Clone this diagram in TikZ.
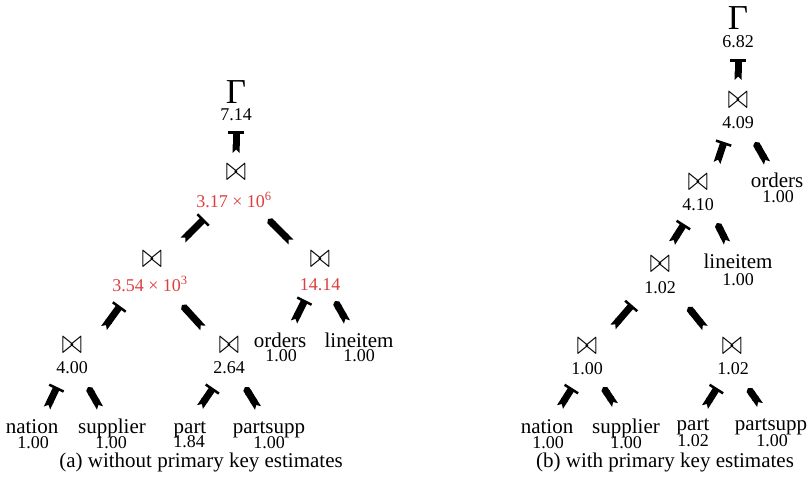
\documentclass[tikz,border=0pt]{standalone}
\usepackage{graphicx}
\usepackage{fontspec}
\setmainfont{Liberation Serif}
\usetikzlibrary{arrows.meta}
\definecolor{estred}{RGB}{222,62,62}
\newcommand\jn{\scalebox{1}[1.4]{$\bowtie$}}
\begin{document}
\begin{tikzpicture}[x=1pt,y=-1pt,
 nm/.style={anchor=base, inner sep=0pt, font=\fontsize{21}{21}\selectfont},
 num/.style={anchor=base, inner sep=0pt, font=\fontsize{18}{18}\selectfont},
 est/.style={num, text=estred},
 gam/.style={anchor=base, inner sep=0pt, font=\fontsize{35}{35}\selectfont},
 joinop/.style={inner sep=0pt, font=\fontsize{30}{30}\selectfont},
 capt/.style={anchor=base, inner sep=0pt, font=\fontsize{21}{21}\selectfont},
 upl/.style={line width=7pt, {Triangle Cap[reversed,length=3.5pt]}-{Bar[width=16pt,line width=2.5pt]}},
 upr/.style={line width=7pt, {Triangle Cap[reversed,length=3.5pt]}-{Triangle Cap[length=2.5pt]}}]
\useasboundingbox (0,0) rectangle (808,479);

% ---------- panel (a) ----------
\node[gam] (aG) at (236,103) {Γ};
\node[num] (aGv) at (236,120) {7.14};
\node[joinop] (aJ1) at (236,172) {\jn};
\node[est] (aJ1v) at (234,207) {3.17 × 10\textsuperscript{6}};
\node[joinop] (aJ2) at (152,259) {\jn};
\node[est] (aJ2v) at (150,291) {3.54 × 10\textsuperscript{3}};
\node[joinop] (aJ3) at (320,259) {\jn};
\node[est] (aJ3v) at (320,290) {14.14};
\node[nm] (aOrd) at (280,347) {orders};
\node[num] (aOrdv) at (281,361) {1.00};
\node[nm] (aLin) at (359,347) {lineitem};
\node[num] (aLinv) at (359,361) {1.00};
\node[joinop] (aJ4) at (72,345) {\jn};
\node[num] (aJ4v) at (72,373) {4.00};
\node[joinop] (aJ5) at (229,345) {\jn};
\node[num] (aJ5v) at (229,373) {2.64};
\node[nm] (aNat) at (32,433) {nation};
\node[num] (aNatv) at (33,448) {1.00};
\node[nm] (aSup) at (112,433) {supplier};
\node[num] (aSupv) at (111,448) {1.00};
\node[nm] (aPart) at (190,433) {part};
\node[num] (aPartv) at (189,447) {1.84};
\node[nm] (aPs) at (269,433) {partsupp};
\node[num] (aPsv) at (269,448) {1.00};
\node[capt] (aCap) at (201,467) {(a) without primary key estimates};

\coordinate (a1s) at (236,153); \coordinate (a1e) at (236,131);
\coordinate (a2s) at (183,240); \coordinate (a2e) at (204,219);
\coordinate (a3s) at (291,242); \coordinate (a3e) at (268,219);
\coordinate (a4s) at (104,328); \coordinate (a4e) at (120,306);
\coordinate (a5s) at (203,328); \coordinate (a5e) at (182,305);
\coordinate (a6s) at (294,322); \coordinate (a6e) at (305,300);
\coordinate (a7s) at (347,322); \coordinate (a7e) at (335,301);
\coordinate (a8s) at (47,408);  \coordinate (a8e) at (57,387);
\coordinate (a9s) at (100,408); \coordinate (a9e) at (88,387);
\coordinate (a10s) at (200,407); \coordinate (a10e) at (213,388);
\coordinate (a11s) at (258,408); \coordinate (a11e) at (245,387);
\draw[upl] (a1s) -- (a1e);
\draw[upl] (a2s) -- (a2e);
\draw[upr] (a3s) -- (a3e);
\draw[upl] (a4s) -- (a4e);
\draw[upr] (a5s) -- (a5e);
\draw[upl] (a6s) -- (a6e);
\draw[upr] (a7s) -- (a7e);
\draw[upl] (a8s) -- (a8e);
\draw[upr] (a9s) -- (a9e);
\draw[upl] (a10s) -- (a10e);
\draw[upr] (a11s) -- (a11e);

% ---------- panel (b) ----------
\node[gam] (bG) at (738,29) {Γ};
\node[num] (bGv) at (738,47) {6.82};
\node[joinop] (bJ1) at (738,100) {\jn};
\node[num] (bJ1v) at (738,128) {4.09};
\node[joinop] (bJ2) at (698,182) {\jn};
\node[num] (bJ2v) at (698,210) {4.10};
\node[nm] (bOrd) at (777,187) {orders};
\node[num] (bOrdv) at (778,202) {1.00};
\node[joinop] (bJ3) at (660,264) {\jn};
\node[num] (bJ3v) at (660,293) {1.02};
\node[nm] (bLin) at (738,268) {lineitem};
\node[num] (bLinv) at (738,285) {1.00};
\node[joinop] (bJ4) at (587,346) {\jn};
\node[num] (bJ4v) at (587,374) {1.00};
\node[joinop] (bJ5) at (732,346) {\jn};
\node[num] (bJ5v) at (733,374) {1.02};
\node[nm] (bNat) at (547,433) {nation};
\node[num] (bNatv) at (548,448) {1.00};
\node[nm] (bSup) at (626,433) {supplier};
\node[num] (bSupv) at (626,448) {1.00};
\node[nm] (bPart) at (693,430) {part};
\node[num] (bPartv) at (693,446) {1.02};
\node[nm] (bPs) at (771,430) {partsupp};
\node[num] (bPsv) at (772,446) {1.00};
\node[capt] (bCap) at (665,467) {(b) with primary key estimates};

\coordinate (b1s) at (738,80);  \coordinate (b1e) at (738,59);
\coordinate (b2s) at (717,163); \coordinate (b2e) at (724,142);
\coordinate (b3s) at (767,163); \coordinate (b3e) at (755,142);
\coordinate (b4s) at (672,243); \coordinate (b4e) at (684,224);
\coordinate (b5s) at (727,243); \coordinate (b5e) at (717,223);
\coordinate (b6s) at (613,327); \coordinate (b6e) at (632,305);
\coordinate (b7s) at (705,328); \coordinate (b7e) at (688,307);
\coordinate (b8s) at (560,407); \coordinate (b8e) at (572,388);
\coordinate (b9s) at (615,405); \coordinate (b9e) at (603,387);
\coordinate (b10s) at (705,407); \coordinate (b10e) at (717,388);
\coordinate (b11s) at (760,405); \coordinate (b11e) at (748,388);
\draw[upl] (b1s) -- (b1e);
\draw[upl] (b2s) -- (b2e);
\draw[upr] (b3s) -- (b3e);
\draw[upl] (b4s) -- (b4e);
\draw[upr] (b5s) -- (b5e);
\draw[upl] (b6s) -- (b6e);
\draw[upr] (b7s) -- (b7e);
\draw[upl] (b8s) -- (b8e);
\draw[upr] (b9s) -- (b9e);
\draw[upl] (b10s) -- (b10e);
\draw[upr] (b11s) -- (b11e);
\end{tikzpicture}
\end{document}
